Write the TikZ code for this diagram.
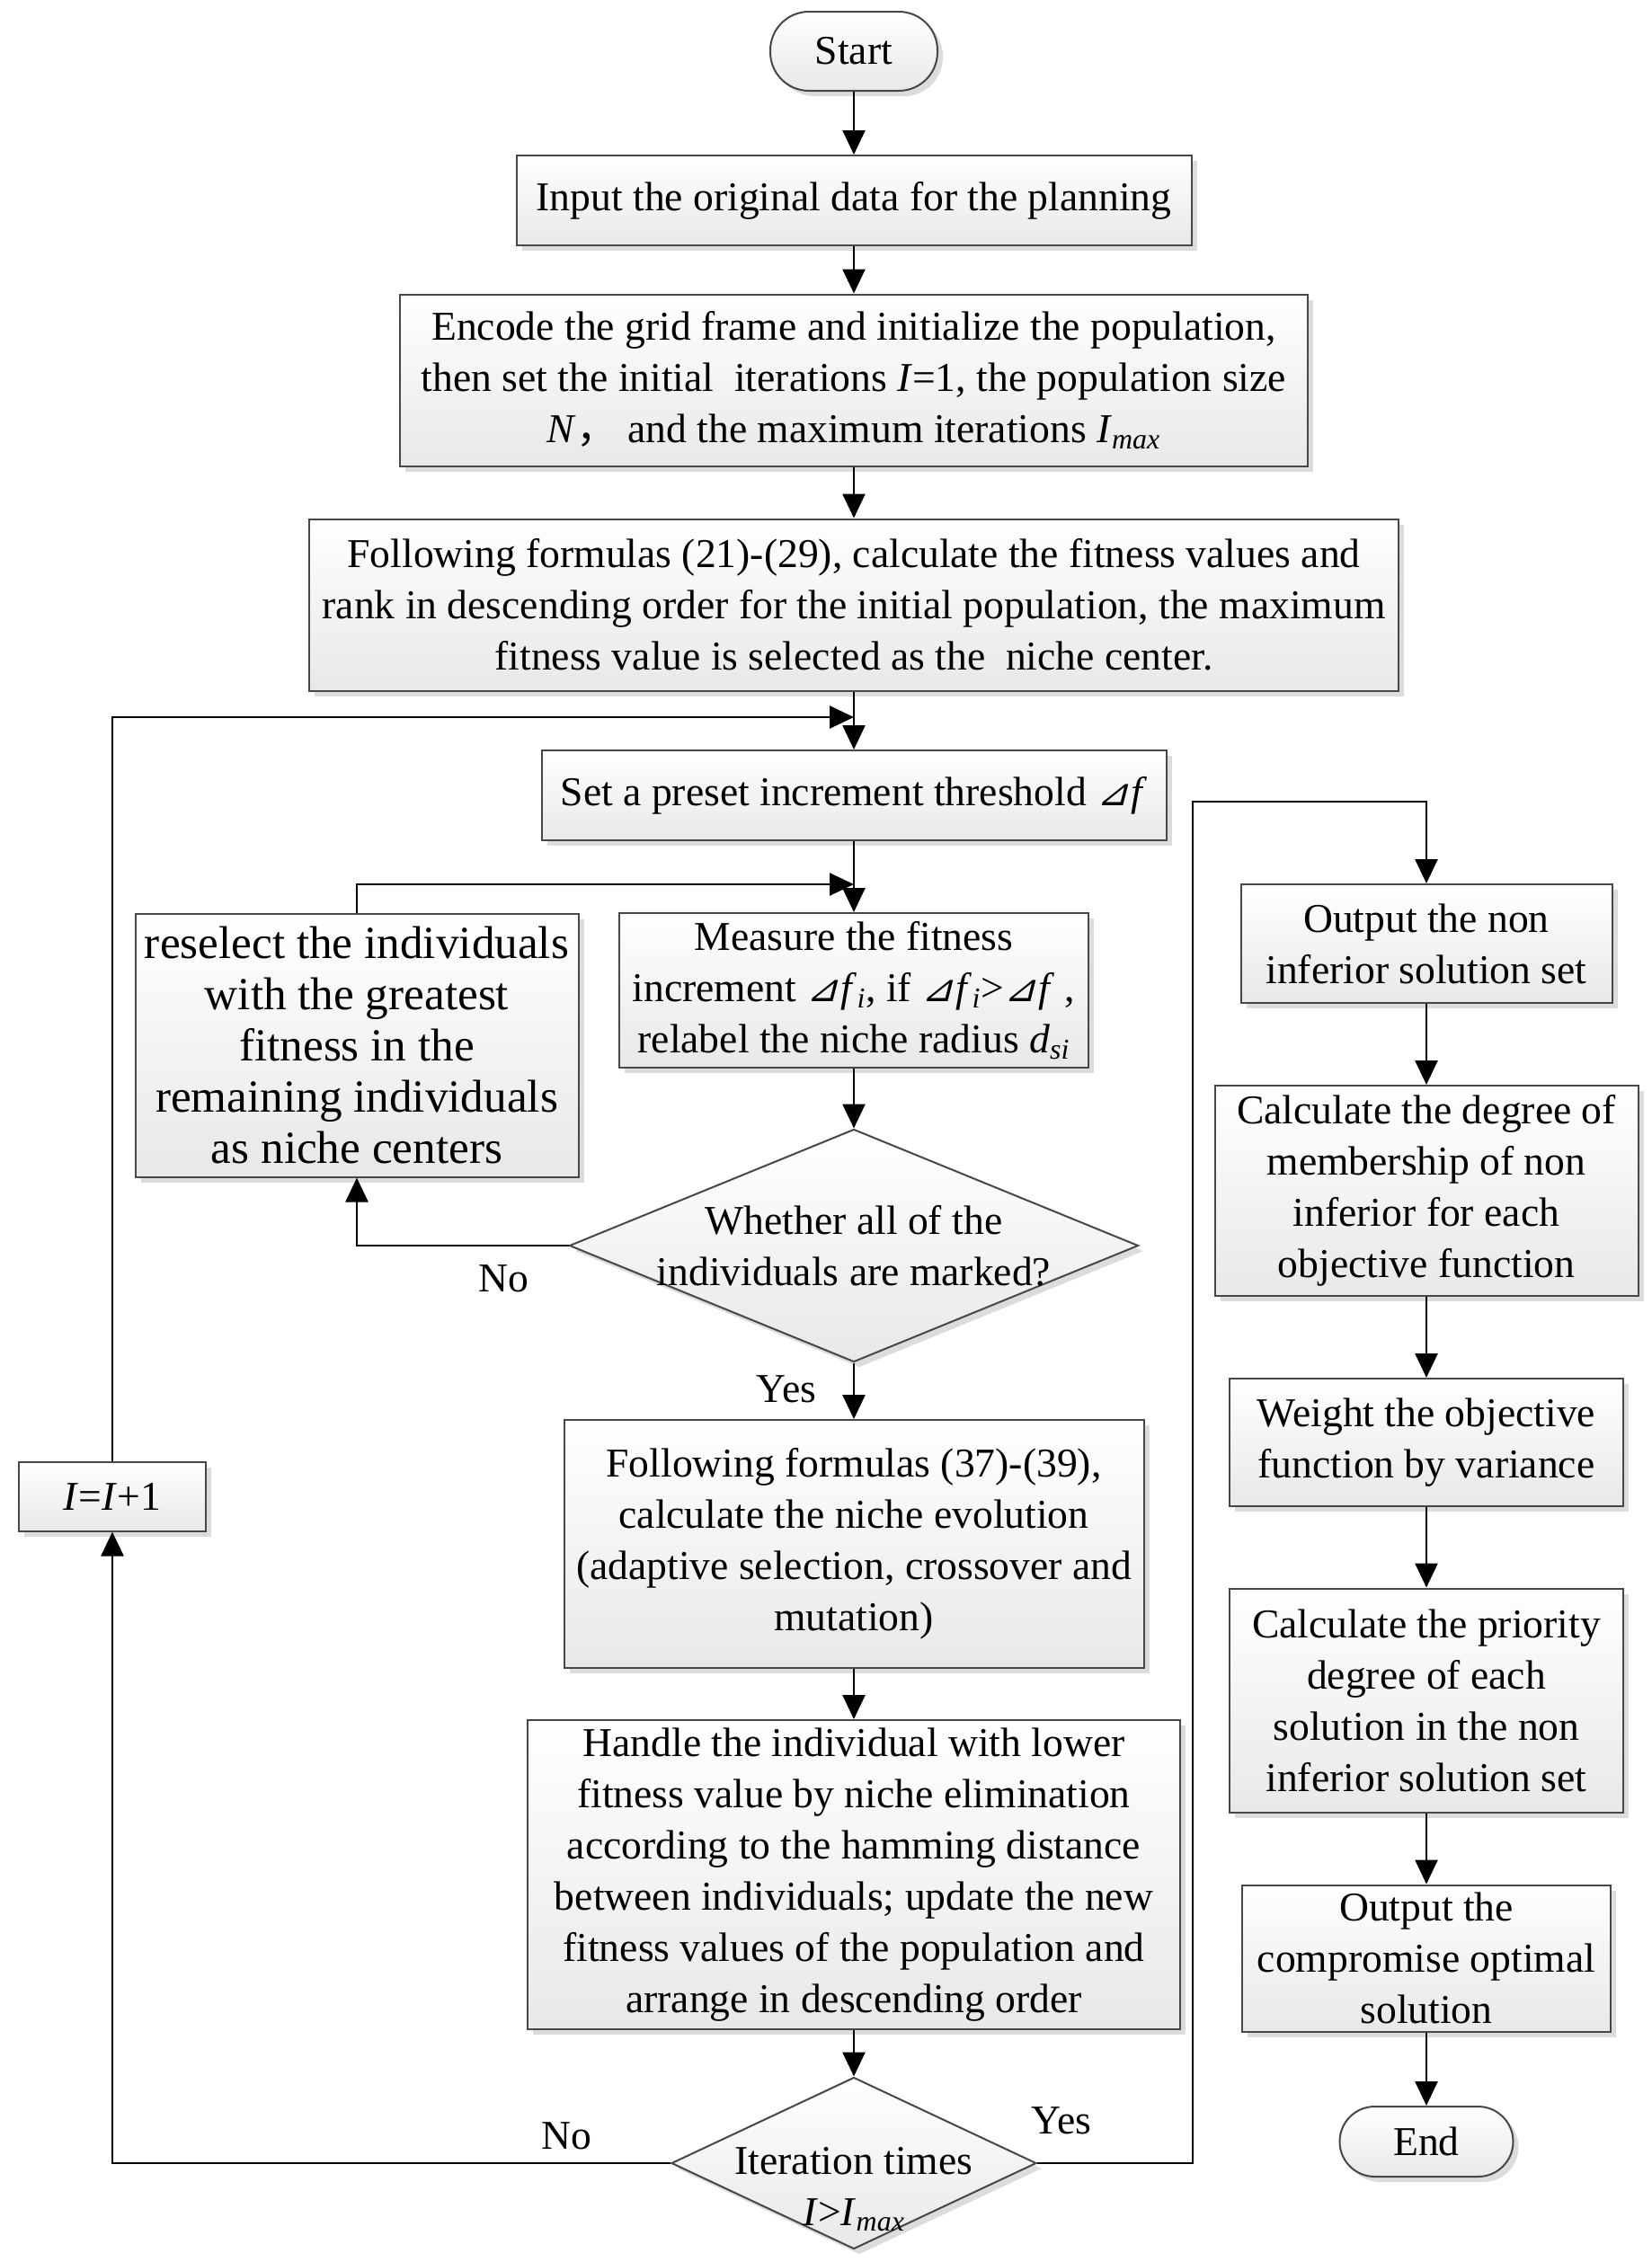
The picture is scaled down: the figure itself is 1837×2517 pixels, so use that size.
\documentclass[tikz,border=0pt]{standalone}
\usepackage{fontspec}
\setmainfont{Liberation Serif}
\newfontfamily\cjk{Noto Sans CJK SC}
\newfontfamily\tri[FakeSlant=0.25]{DejaVu Sans}
\usetikzlibrary{arrows.meta,shadows,shapes.geometric}
\newcommand{\myI}{\textit{I}}
\newcommand{\myImax}{\textit{I}\textsubscript{\textit{max}}}
\newcommand{\mytri}{{\tri\fontsize{21pt}{28.5pt}\selectfont ⊿}\kern1.5pt}
\newcommand{\mydf}{\mytri\textit{f}}
\newcommand{\mydfi}{\mytri\textit{f}\textsubscript{\textit{i}}}
\begin{document}
\begin{tikzpicture}[x=0.5pt,y=-0.5pt,
  font=\fontsize{22.8pt}{28.5pt}\selectfont,
  sz/.style 2 args={minimum width=#1*0.5pt, minimum height=#2*0.5pt},
  shad/.style={drop shadow={shadow xshift=3pt, shadow yshift=-3pt, fill=black!25, opacity=0.55}},
  box/.style={draw=black!72, line width=1pt, top color=white, bottom color=black!9, shad, align=center, inner sep=0pt},
  term/.style={box, rounded corners=21.5pt},
  dia/.style={box, diamond},
  txt/.style={align=center, inner sep=0pt},
  arr/.style={line width=1.3pt, -{Triangle[length=13.5pt,width=12.5pt]}},
  lab/.style={inner sep=0pt}
]
\useasboundingbox (0,0) rectangle (1837,2517);
% main column
\node[term, sz={186}{88}] (start) at (950,57) {Start};
\node[box, sz={751}{100}] (input) at (950,223) {Input the original data for the planning};
\node[box, sz={1010}{191}] (encode) at (950,423) {Encode the grid frame and initialize the population,\\then set the initial \ iterations \myI=1, the population size\\\textit{N}{\cjk ，}\ and the maximum iterations \myImax};
\node[box, sz={1212}{191}] (f1) at (950,673) {Following formulas (21)-(29), calculate the fitness values and\\rank in descending order for the initial population, the maximum\\fitness value is selected as the \ niche center.};
\node[box, sz={695}{100}] (set) at (950,885) {Set a preset increment threshold \mydf};
\node[box, sz={493}{293}, font=\fontsize{25.6pt}{28.5pt}\selectfont] (resel) at (397,1163) {reselect the individuals\\with the greatest\\fitness in the\\remaining individuals\\as niche centers};
\node[box, sz={522}{172}] (meas) at (950,1102) {Measure the fitness\\increment \mydfi, if \mydfi>\mydf\ ,\\relabel the niche radius \textit{d}\textsubscript{\textit{si}}};
\node[dia, sz={633}{259}] (d1) at (950,1386) {};
\node[txt] (d1t) at (950,1386) {Whether all of the\\individuals are marked?};
\node[box, sz={645}{276}] (f2) at (950,1718) {Following formulas (37)-(39),\\calculate the niche evolution\\(adaptive selection, crossover and\\mutation)};
\node[box, sz={726}{344}] (hand) at (950,2086) {Handle the individual with lower\\fitness value by niche elimination\\according to the hamming distance\\between individuals; update the new\\fitness values of the population and\\arrange in descending order};
\node[dia, sz={406}{191}] (d2) at (950,2407) {};
\node[txt] (d2t) at (950,2436) {Iteration times\\\myI>\myImax};
\node[box, sz={208}{77}] (inc) at (125,1665) {\myI=\myI+1};
% right column
\node[box, sz={413}{132}] (out1) at (1587,1050) {Output the non\\inferior solution set};
\node[box, sz={471}{234}] (calc) at (1587,1325) {Calculate the degree of\\membership of non\\inferior for each\\objective function};
\node[box, sz={438}{142}] (weight) at (1587,1605) {Weight the objective\\function by variance};
\node[box, sz={438}{249}] (prio) at (1587,1892) {Calculate the priority\\degree of each\\solution in the non\\inferior solution set};
\node[box, sz={410}{163}] (out2) at (1587,2179) {Output the\\compromise optimal\\solution};
\node[term, sz={193}{78}, rounded corners=19.5pt] (end) at (1587,2383) {End};
% labels
\node[lab] (no1) at (560,1423) {No};
\node[lab] (yes1) at (875,1546) {Yes};
\node[lab] (no2) at (630,2377) {No};
\node[lab] (yes2) at (1181,2360) {Yes};
% coordinates
\coordinate (mA) at (950,798);
\coordinate (mB) at (950,984);
\coordinate (rx) at (1327,892);
% connectors
\draw[arr] (start) -- (input);
\draw[arr] (input) -- (encode);
\draw[arr] (encode) -- (f1);
\draw[arr] (f1) -- (set);
\draw[arr] (inc.north) |- (mA);
\draw[arr] (set) -- (meas);
\draw[arr] (resel.north) |- (mB);
\draw[arr] (meas) -- (d1);
\draw[arr] (d1.west) -| (resel.south);
\draw[arr] (d1) -- (f2);
\draw[arr] (f2) -- (hand);
\draw[arr] (hand) -- (d2);
\draw[arr] (d2.west) -| (inc.south);
\draw[arr] (d2.east) -| (rx) -| (out1.north);
\draw[arr] (out1) -- (calc);
\draw[arr] (calc) -- (weight);
\draw[arr] (weight) -- (prio);
\draw[arr] (prio) -- (out2);
\draw[arr] (out2) -- (end);
\end{tikzpicture}
\end{document}
